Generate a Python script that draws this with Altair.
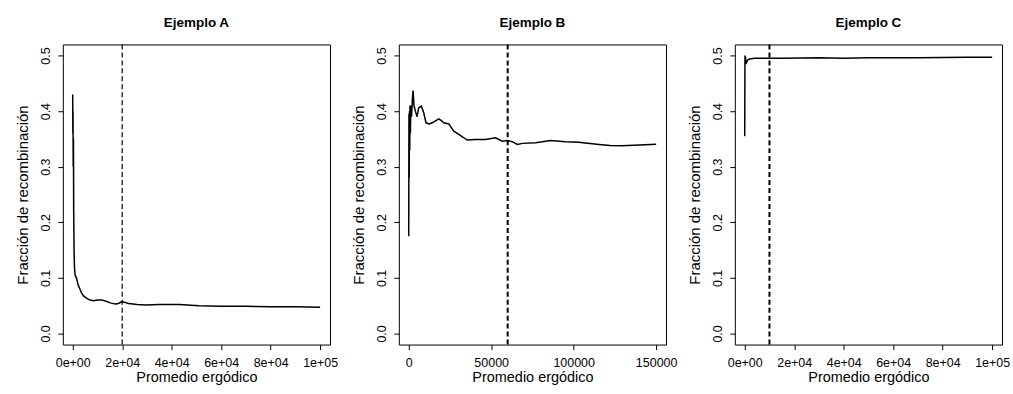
import altair as alt
import pandas as pd

# ---------------- data ----------------
titles = ["Ejemplo A", "Ejemplo B", "Ejemplo C"]

xA = [0, 60, 120, 200, 300, 400, 550, 700, 950, 1500, 2300, 3000, 3660, 4500, 5700,
      7000, 8400, 10000, 11800, 13500, 15200, 17200, 18500, 19700, 21000, 22600, 26000,
      29400, 35000, 43000, 51100, 60000, 70000, 80000, 90000, 100000]
yA = [0.43, 0.36, 0.40, 0.30, 0.35, 0.22, 0.15, 0.12, 0.105, 0.100, 0.086, 0.079, 0.072,
      0.067, 0.063, 0.060, 0.059, 0.060, 0.060, 0.058, 0.055, 0.053, 0.054, 0.057, 0.056,
      0.054, 0.052, 0.051, 0.052, 0.052, 0.050, 0.049, 0.049, 0.048, 0.048, 0.047]

xB = [0, 150, 300, 450, 600, 800, 1000, 1300, 1700, 2200, 2630, 3200, 4050, 5060, 6070,
      7690, 9100, 10500, 12500, 14200, 16000, 18200, 19800, 21200, 24300, 27300, 30400,
      33000, 35400, 40500, 46600, 52600, 56700, 59700, 62800, 65800, 68900, 77000, 86000,
      95000, 103000, 115400, 122000, 129000, 140000, 150000]
yB = [0.175, 0.395, 0.28, 0.40, 0.33, 0.41, 0.36, 0.41, 0.39, 0.42, 0.437, 0.41, 0.400,
      0.390, 0.406, 0.409, 0.397, 0.379, 0.377, 0.379, 0.382, 0.386, 0.383, 0.379, 0.377,
      0.364, 0.358, 0.353, 0.348, 0.349, 0.349, 0.352, 0.346, 0.347, 0.345, 0.340, 0.342,
      0.343, 0.347, 0.345, 0.344, 0.340, 0.338, 0.3375, 0.339, 0.3405]

xC = [0, 100, 200, 350, 500, 800, 1200, 2000, 4000, 8000, 15000, 30000, 40000, 50000,
      70000, 90000, 100000]
yC = [0.355, 0.50, 0.49, 0.498, 0.485, 0.488, 0.492, 0.494, 0.495, 0.495, 0.495, 0.496,
      0.495, 0.496, 0.496, 0.497, 0.497]

vlines = [20000, 60000, 10000]

xticksA = [0, 20000, 40000, 60000, 80000, 100000]
xlabelsA = ["0e+00", "2e+04", "4e+04", "6e+04", "8e+04", "1e+05"]
xticksB = [0, 50000, 100000, 150000]
xlabelsB = ["0", "50000", "100000", "150000"]
yticks = [0.0, 0.1, 0.2, 0.3, 0.4, 0.5]

xdomAC = [-4000, 104000]
xdomB = [-6000, 156000]
ydom = [-0.02, 0.52]

FONT = "Liberation Sans"


def label_expr(vals, labels):
    expr = "''"
    for v, l in reversed(list(zip(vals, labels))):
        expr = f"datum.value == {v} ? '{l}' : ({expr})"
    return expr


def panel(title, xs, ys, vline, xticks, xlabels, xdom, dash_w):
    df = pd.DataFrame({"x": xs, "y": ys})
    xaxis = alt.Axis(values=xticks, labelExpr=label_expr(xticks, xlabels),
                     labelPadding=7, titlePadding=2, labelFlush=False, grid=False,
                     labelOverlap=False, titleFontSize=14.5, title="Promedio ergódico")
    yaxis = alt.Axis(values=yticks, format=".1f", labelAngle=270, labelAlign="center",
                     labelBaseline="bottom", labelPadding=5, titlePadding=9, grid=False,
                     titleFontSize=15, title="Fracción de recombinación")
    line = alt.Chart(df).mark_line(color="black", strokeWidth=1.5).encode(
        x=alt.X("x:Q", scale=alt.Scale(domain=xdom, nice=False, zero=False), axis=xaxis),
        y=alt.Y("y:Q", scale=alt.Scale(domain=ydom, nice=False, zero=False), axis=yaxis),
        order="i:Q",
    ).transform_window(i="row_number()")
    rule = alt.Chart(pd.DataFrame({"x": [vline]})).mark_rule(
        color="black", strokeDash=[5, 3], strokeWidth=dash_w).encode(x="x:Q")
    return alt.layer(line, rule).properties(
        width=268, height=301,
        title=alt.TitleParams(title, fontSize=13.5, fontWeight="bold", font=FONT,
                              anchor="middle", frame="group", offset=14, color="black"),
    )


pA = panel(titles[0], xA, yA, vlines[0], xticksA, xlabelsA, xdomAC, 1.2)
pB = panel(titles[1], xB, yB, vlines[1], xticksB, xlabelsB, xdomB, 2)
pC = panel(titles[2], xC, yC, vlines[2], xticksA, xlabelsA, xdomAC, 2)

chart = alt.hconcat(pA, pB, pC, spacing=69, bounds="flush").properties(
    padding={"left": 15, "top": 15, "right": 2, "bottom": 3},
    background="white",
).configure_view(
    stroke="black", strokeWidth=1
).configure_axis(
    labelFont=FONT, titleFont=FONT, labelFontSize=12.5, titleFontSize=14.5,
    labelColor="black", titleColor="black", tickColor="black", tickSize=5,
    tickWidth=1, domain=False, grid=False, titleFontWeight="normal"
)

chart.save("out.html", embed_options={"renderer": "svg", "actions": False})
